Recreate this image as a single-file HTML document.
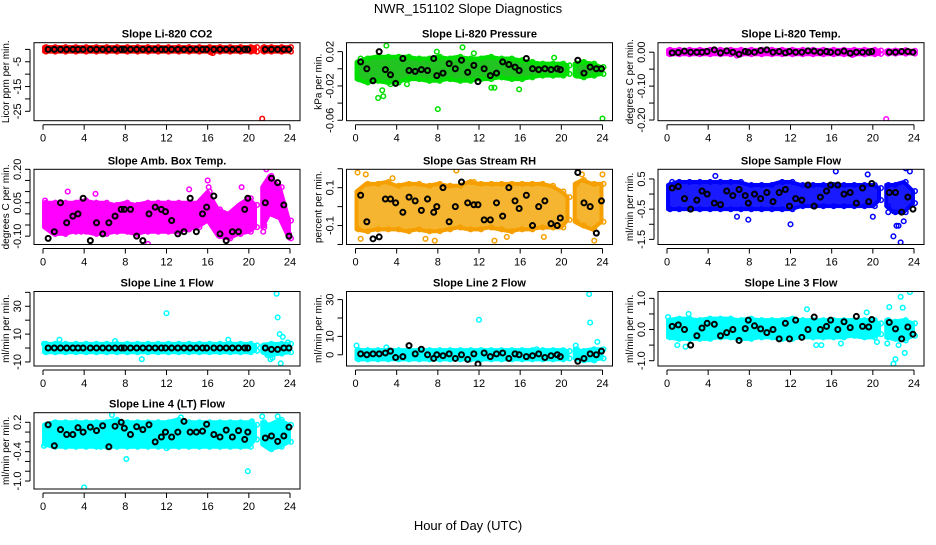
<!DOCTYPE html>
<html><head><meta charset="utf-8"><style>
body{margin:0;background:#fff}
svg text{font-family:"Liberation Sans",Arial,sans-serif}
</style></head><body>
<svg id="c" width="936" height="540" viewBox="0 0 936 540">
<text x="468" y="13" text-anchor="middle" font-size="13">NWR_151102  Slope Diagnostics</text>
<text x="468" y="530" text-anchor="middle" font-size="13">Hour of Day (UTC)</text>
</svg>
<script>
const hoursA=[0.1,1,2,3,4,5,6,7,8,9,10,11,12,13,14,15,16,17,18,19,20,20.6];
const hoursB=[21.3,22,23,23.9];
const blackHours=[0.5,1.1,1.7,2.3,2.9,3.4,3.9,4.6,5.2,5.8,6.4,7.0,7.6,7.9,8.5,9.1,9.7,10.3,10.9,11.5,11.9,12.5,13.1,13.7,14.3,14.9,15.5,15.9,16.6,17.2,17.8,18.4,19.0,19.6,19.9,21.6,22.2,22.8,23.4,23.9];
const xTicks=[0,4,8,12,16,20,24];

// CO2
const co2LoA=[-0.9,-0.9,-0.9,-0.9,-0.9,-0.9,-0.9,-0.9,-0.9,-0.9,-0.9,-0.9,-0.9,-0.9,-0.9,-0.9,-0.9,-0.9,-0.9,-0.9,-0.9,-0.9];
const co2HiA=[0.9,0.9,0.9,0.9,0.9,0.9,0.9,0.9,0.9,0.9,0.9,0.9,0.9,0.9,0.9,0.9,0.9,0.9,0.9,0.9,0.9,0.9];
const co2LoB=[-0.9,-0.9,-0.9,-0.9];
const co2HiB=[0.9,0.9,0.9,0.9];
const co2Out=[[16.3,-1.2],[16.5,-1.5],[21.3,-28]];
const co2Black=[0,0,0,0,0,0,0,0,0,0,0,0,0,0,0,0,0,0,0,0,0,0,0,0,0,0,0,0,0,0,0,0,0,0,0,0,0,0,0,0];
const co2Ticks=[0,-5,-10,-15,-20,-25];
const co2Labels=["","-5","","-15","","-25"];

// Pressure
const prLoA=[-0.012,-0.016,-0.014,-0.016,-0.016,-0.012,-0.012,-0.014,-0.014,-0.012,-0.014,-0.014,-0.012,-0.012,-0.010,-0.012,-0.012,-0.010,-0.008,-0.008,-0.008,-0.006];
const prHiA=[0.008,0.012,0.014,0.014,0.014,0.014,0.012,0.012,0.014,0.012,0.014,0.012,0.012,0.014,0.012,0.012,0.010,0.008,0.006,0.006,0.006,0.004];
const prLoB=[-0.008,-0.010,-0.008,-0.006];
const prHiB=[0.006,0.008,0.006,0.002];
const prOut=[[2.2,-0.034],[2.7,-0.032],[2.6,-0.025],[3,0.027],[8,-0.047],[24,-0.058],[10.4,0.025],[13.2,-0.022],[13.5,-0.022],[15.9,-0.024],[11.5,0.018],[7.9,0.02],[0.5,0.012],[3.4,-0.018],[5,-0.018],[19.3,0.013]];
const prBlack=[0.008,0.0,-0.014,0.02,-0.001,-0.007,-0.017,0.012,-0.002,-0.003,-0.001,-0.002,0.012,-0.008,-0.005,0.006,0.0,0.01,-0.004,0.004,-0.015,0.0,-0.008,-0.005,0.008,0.005,0.002,-0.002,0.012,0.0,-0.001,0.0,-0.001,0.0,-0.001,0.01,-0.005,0.002,0.0,0.0];
const prTicks=[0.02,0,-0.02,-0.04,-0.06];
const prLabels=["0.02","","-0.02","","-0.06"];

// Li-820 Temp
const tpLoA=[-0.006,-0.006,-0.006,-0.006,-0.006,-0.006,-0.006,-0.006,-0.006,-0.006,-0.006,-0.006,-0.006,-0.006,-0.006,-0.006,-0.006,-0.006,-0.006,-0.006,-0.006,-0.005];
const tpHiA=[0.007,0.007,0.007,0.007,0.007,0.007,0.007,0.007,0.007,0.007,0.007,0.007,0.007,0.007,0.007,0.007,0.007,0.007,0.007,0.007,0.007,0.005];
const tpLoB=[-0.004,-0.004,-0.004,-0.004];
const tpHiB=[0.004,0.005,0.006,0.004];
const tpOut=[[21.3,-0.197],[6.8,-0.01],[18,-0.008]];
const tpBlack=[-0.002,-0.001,0.003,0.0,0.0,0.0,0.002,0.007,-0.002,0.004,0.0,-0.006,0.002,0.0,0.0,0.005,0.007,0.0,0.002,-0.002,0.002,0.0,0.0,0.004,0.003,0.0,0.002,0.0,0.0,0.003,-0.003,0.0,0.0,0.0,0.002,0.0,0.0,0.002,0.002,0.0];
const tpTicks=[0,-0.05,-0.10,-0.15,-0.20];
const tpLabels=["0.00","","-0.10","","-0.20"];

// Amb box temp
const amLoA=[-0.06,-0.09,-0.09,-0.08,-0.08,-0.09,-0.09,-0.08,-0.08,-0.09,-0.08,-0.08,-0.08,-0.08,-0.07,-0.06,-0.03,-0.10,-0.11,-0.09,-0.08,-0.06];
const amHiA=[0.05,0.05,0.05,0.05,0.06,0.05,0.05,0.04,0.05,0.04,0.05,0.05,0.05,0.05,0.05,0.05,0.10,0.02,0.0,0.04,0.07,0.04];
const amLoB=[-0.06,0.0,-0.02,-0.11];
const amHiB=[0.12,0.17,0.12,-0.03];
const amOut=[[10.2,-0.135],[17.8,-0.12],[16,0.15],[16.1,0.12],[2.4,0.1],[5.1,0.09],[14.2,0.11],[21.7,0.2],[19.3,0.12],[3.7,-0.08],[0.2,0.06],[21.4,-0.08],[21.5,-0.05],[23.9,-0.09],[1.6,-0.08]];
const amBlack=[-0.11,-0.08,0.05,-0.04,-0.01,0.0,0.07,-0.12,-0.04,-0.09,-0.04,-0.01,0.02,0.02,0.02,-0.10,-0.12,0.0,0.03,0.02,0.01,-0.03,-0.09,-0.08,0.07,-0.08,0.00,0.03,0.08,-0.09,-0.12,-0.08,-0.08,0.02,0.07,0.05,0.16,0.14,0.04,-0.10];
const amTicks=[0.20,0.15,0.10,0.05,0,-0.05,-0.10];
const amLabels=["0.20","","","0.05","","","-0.10"];

// Gas stream RH
const rhLoA=[-0.12,-0.13,-0.12,-0.12,-0.12,-0.13,-0.12,-0.13,-0.13,-0.12,-0.11,-0.12,-0.12,-0.11,-0.12,-0.13,-0.12,-0.12,-0.11,-0.11,-0.11,-0.07];
const rhHiA=[0.08,0.12,0.12,0.13,0.11,0.12,0.12,0.11,0.12,0.11,0.11,0.13,0.12,0.12,0.12,0.12,0.12,0.12,0.12,0.11,0.08,0.05];
const rhLoB=[-0.08,-0.10,-0.12,-0.08];
const rhHiB=[0.12,0.14,0.12,0.12];
const rhOut=[[0.2,0.18],[0.5,-0.17],[1,0.17],[3.6,0.15],[6.8,-0.17],[7.7,-0.18],[9.8,0.19],[13.5,-0.18],[14.7,-0.16],[18.3,-0.16],[23.2,-0.18],[24,0.17],[11.5,0.13],[22,0.17]];
const rhBlack=[0.06,-0.08,-0.17,-0.16,0.04,0.04,0.02,-0.03,0.05,0.03,-0.02,0.04,-0.03,0.00,0.1,-0.08,0.00,0.13,0.02,0.01,0.01,-0.07,-0.07,0.02,-0.05,0.1,0.03,-0.01,0.06,-0.1,0.0,0.03,-0.09,-0.1,-0.06,0.18,0.02,0.0,-0.14,0.03];
const rhTicks=[0.2,0.1,0,-0.1,-0.2];
const rhLabels=["","0.1","","-0.1",""];

// Sample flow
const sfLoA=[-0.5,-0.5,-0.5,-0.5,-0.5,-0.5,-0.5,-0.5,-0.5,-0.5,-0.5,-0.5,-0.5,-0.4,-0.4,-0.4,-0.4,-0.4,-0.4,-0.4,-0.4,-0.2];
const sfHiA=[0.3,0.4,0.4,0.4,0.4,0.4,0.4,0.4,0.3,0.3,0.3,0.4,0.4,0.3,0.3,0.3,0.3,0.3,0.3,0.3,0.3,0.2];
const sfLoB=[-0.4,-0.6,-0.6,-0.3];
const sfHiB=[0.3,0.3,0.4,0.1];
const sfOut=[[22,-1.4],[22.7,-1.6],[22.3,-1.05],[22.5,-1.05],[12,-1.0],[4.7,0.6],[16.4,0.75],[19.5,0.65],[23.2,0.85],[23.6,0.75],[7.9,-0.85],[6.8,-0.75],[20,-0.75],[21.5,-0.6],[23,-0.9],[0.5,0.4]];
const sfBlack=[0.2,0.25,-0.15,-0.5,-0.2,0.1,0.0,-0.3,-0.35,0.1,-0.05,0.15,-0.05,-0.3,0.0,-0.15,0.05,-0.25,0.05,0.15,-0.4,-0.15,-0.2,0.3,-0.4,-0.1,0.1,0.3,0.3,0.0,0.05,-0.3,0.2,-0.25,0.35,0.05,0.05,-0.6,-0.1,-0.5];
const sfTicks=[0.5,0,-0.5,-1,-1.5];
const sfLabels=["0.5","","-0.5","","-1.5"];

// Line 1
const l1LoA=[-3,-3,-3,-3,-3,-3,-3,-3,-3,-3,-3,-3,-3,-3,-3,-3,-3,-3,-3,-3,-3,-2];
const l1HiA=[3,3,3,3,3,3,3,3,3,3,3,3,3,3,3,3,3,3,3,3,3,2];
const l1LoB=[-3,-5,-4,-3];
const l1HiB=[2,3,3,3];
const l1Out=[[12,25],[22.7,39],[22.8,22],[23,10],[23.3,8],[23.1,-11],[22.1,-8],[22.3,-7],[9.6,-8],[1.6,6],[18,6],[21.8,-5],[0.1,3],[7,5],[23.8,4]];
const l1Black=[0,0,0,0,0,0,0,0,0,0,0,0,0,0,0,0,0,0,0,0,0,0,0,0,0,0,0,0,0,0,0,0,0,0,0,0,-1,-1,0,0];
const l1Ticks=[40,30,20,10,0,-10];
const l1Labels=["","30","","10","","-10"];

// Line 2
const l2LoA=[-2.5,-2.5,-2.5,-2.5,-2.5,-2.5,-2.5,-2.5,-2.5,-2.5,-2.5,-2.5,-2.5,-2.5,-2.5,-2.5,-2.5,-2.5,-2.5,-2.5,-2.5,-2];
const l2HiA=[2.5,2.5,2.5,2.5,2.5,2.5,2.5,2.5,2.5,2.5,2.5,2.5,2.5,2.5,2.5,2.5,2.5,2.5,2.5,2.5,2.5,2];
const l2LoB=[-2,-3,-3,-2];
const l2HiB=[3,2,3,3];
const l2Out=[[12,19],[22.7,33],[22.8,17.5],[23.5,7],[21.4,5],[0.1,5],[23.2,-3],[3,4],[17.6,3]];
const l2Black=[0.5,0,0.5,0.5,1,2,-1.5,-1,5,0.5,3,0,-2,0,-0.5,0.5,-2,0,-2.5,0.5,-5,1,-1,0.5,1,-2,0.5,0,-1,-0.5,0.5,-1.5,-0.5,0,-1,-3.5,-2,0.5,0,2];
const l2Ticks=[30,20,10,0];
const l2Labels=["30","","10","0"];

// Line 3
const l3LoA=[-0.25,-0.3,-0.3,-0.3,-0.3,-0.25,-0.25,-0.3,-0.3,-0.25,-0.25,-0.3,-0.3,-0.25,-0.25,-0.25,-0.25,-0.25,-0.2,-0.25,-0.25,-0.15];
const l3HiA=[0.3,0.35,0.35,0.3,0.35,0.35,0.35,0.3,0.35,0.3,0.3,0.3,0.35,0.3,0.3,0.3,0.3,0.3,0.3,0.3,0.3,0.2];
const l3LoB=[-0.25,-0.3,-0.35,-0.2];
const l3HiB=[0.3,0.25,0.3,0.2];
const l3Out=[[22,-1.1],[22.2,-0.95],[22.5,-0.5],[23.1,-0.75],[22.7,1.05],[23.6,1.2],[22.9,0.7],[21.6,0.72],[13.6,0.65],[19.4,0.55],[1,-0.5],[1.8,-0.55],[14.5,-0.5],[15,-0.5],[16.9,-0.45],[0.1,0.4],[2.1,0.5],[20.4,-0.4],[21.4,-0.45]];
const l3Black=[0.1,0.15,0.0,-0.5,-0.2,0.05,0.2,0.17,-0.2,-0.1,0.0,-0.35,0.03,0.3,0.12,0.02,-0.1,0.0,-0.3,0.2,-0.3,0.3,-0.25,0.0,0.4,0.0,0.1,0.3,0.0,0.25,0.06,0.42,0.1,0.08,0.32,0.23,0.02,-0.3,0.08,-0.15];
const l3Ticks=[1,0.5,0,-0.5,-1];
const l3Labels=["1.0","","0.0","","-1.0"];

// Line 4
const l4LoA=[-0.25,-0.3,-0.3,-0.3,-0.3,-0.3,-0.3,-0.3,-0.3,-0.3,-0.3,-0.3,-0.3,-0.3,-0.3,-0.3,-0.3,-0.3,-0.3,-0.3,-0.3,-0.15];
const l4HiA=[0.15,0.2,0.2,0.2,0.2,0.2,0.2,0.25,0.2,0.2,0.2,0.2,0.2,0.25,0.2,0.2,0.2,0.2,0.2,0.2,0.2,0.15];
const l4LoB=[-0.25,-0.35,-0.3,-0.2];
const l4HiB=[0.2,0.15,0.25,0.15];
const l4Out=[[4,-1.13],[8.1,-0.55],[19.9,-0.8],[6.7,0.35],[5.6,-0.3],[0.1,-0.28],[12,-0.33],[21.3,0.32],[22.8,0.32],[13.4,0.3],[8.6,-0.28],[20.3,0.22]];
const l4Black=[0.15,-0.28,0.05,-0.05,-0.05,0.09,0.0,0.1,0.03,0.13,-0.3,0.12,0.2,0.08,-0.05,0.11,0.05,0.15,-0.2,-0.1,0.0,-0.1,0.0,0.22,0.0,0.0,0.02,0.16,-0.05,-0.1,0.04,-0.1,0.03,-0.15,0.0,-0.12,-0.08,-0.19,-0.08,0.1];
const l4Ticks=[0.2,0,-0.2,-0.4,-0.6,-0.8,-1.0];
const l4Labels=["0.2","","","-0.4","","","-1.0"];

const NS="http://www.w3.org/2000/svg";
const svg=document.getElementById('c');
const colLeft=[34,346.5,658];
const rowTop=[42.7,169.3,291.5,412.7];
const rowBot=[120.7,244.5,366,489];

const panels=[
 {n:'co2',t:'Slope Li-820 CO2',yl:'Licor ppm per min.',c:0,r:0,ymin:-28.8,ymax:2.7,col:'#f00',fill:'#c81010',lo:[co2LoA,co2LoB],hi:[co2HiA,co2HiB],out:co2Out,blk:co2Black,tk:co2Ticks,lb:co2Labels},
 {n:'pressure',t:'Slope Li-820 Pressure',yl:'kPa per min.',c:1,r:0,ymin:-0.0605,ymax:0.0304,col:'#00e000',fill:'#22c422',lo:[prLoA,prLoB],hi:[prHiA,prHiB],out:prOut,blk:prBlack,tk:prTicks,lb:prLabels},
 {n:'li820-temp',t:'Slope Li-820 Temp.',yl:'degrees C per min.',c:2,r:0,ymin:-0.202,ymax:0.028,col:'#f0f',fill:'#f0f',lo:[tpLoA,tpLoB],hi:[tpHiA,tpHiB],out:tpOut,blk:tpBlack,tk:tpTicks,lb:tpLabels},
 {n:'amb-box-temp',t:'Slope Amb. Box Temp.',yl:'degrees C per min.',c:0,r:1,ymin:-0.1375,ymax:0.2,col:'#f0f',fill:'#f0f',lo:[amLoA,amLoB],hi:[amHiA,amHiB],out:amOut,blk:amBlack,tk:amTicks,lb:amLabels},
 {n:'gas-stream-rh',t:'Slope Gas Stream RH',yl:'percent per min.',c:1,r:1,ymin:-0.2,ymax:0.197,col:'#f5a000',fill:'#f5b530',lo:[rhLoA,rhLoB],hi:[rhHiA,rhHiB],out:rhOut,blk:rhBlack,tk:rhTicks,lb:rhLabels},
 {n:'sample-flow',t:'Slope Sample Flow',yl:'ml/min per min.',c:2,r:1,ymin:-1.67,ymax:0.82,col:'#00f',fill:'#1a1aff',lo:[sfLoA,sfLoB],hi:[sfHiA,sfHiB],out:sfOut,blk:sfBlack,tk:sfTicks,lb:sfLabels},
 {n:'line1-flow',t:'Slope Line 1 Flow',yl:'ml/min per min.',c:0,r:2,ymin:-12.9,ymax:40.6,col:'#0ff',fill:'#0ff',lo:[l1LoA,l1LoB],hi:[l1HiA,l1HiB],out:l1Out,blk:l1Black,tk:l1Ticks,lb:l1Labels},
 {n:'line2-flow',t:'Slope Line 2 Flow',yl:'ml/min per min.',c:1,r:2,ymin:-6.1,ymax:34.4,col:'#0ff',fill:'#0ff',lo:[l2LoA,l2LoB],hi:[l2HiA,l2HiB],out:l2Out,blk:l2Black,tk:l2Ticks,lb:l2Labels},
 {n:'line3-flow',t:'Slope Line 3 Flow',yl:'ml/min per min.',c:2,r:2,ymin:-1.17,ymax:1.22,col:'#0ff',fill:'#0ff',lo:[l3LoA,l3LoB],hi:[l3HiA,l3HiB],out:l3Out,blk:l3Black,tk:l3Ticks,lb:l3Labels},
 {n:'line4-flow',t:'Slope Line 4 (LT) Flow',yl:'ml/min per min.',c:0,r:3,ymin:-1.163,ymax:0.396,col:'#0ff',fill:'#0ff',lo:[l4LoA,l4LoB],hi:[l4HiA,l4HiB],out:l4Out,blk:l4Black,tk:l4Ticks,lb:l4Labels}
];

function mk(tag,attrs,parent){const e=document.createElementNS(NS,tag);for(const k in attrs)e.setAttribute(k,attrs[k]);parent.appendChild(e);return e;}

panels.forEach(p=>{
 const L=colLeft[p.c],T=rowTop[p.r],B=rowBot[p.r],W=266;
 const xs=h=>L+9+h*(247/24);
 const ys=v=>B-(v-p.ymin)/(p.ymax-p.ymin)*(B-T);
 const g=mk('g',{},svg);
 
 
 const clip=mk('clipPath',{id:'cl'+p.n},g);
 mk('rect',{x:L,y:T,width:W,height:B-T},clip);
 const pg=mk('g',{'clip-path':'url(#cl'+p.n+')'},g);
 [hoursA,hoursB].forEach((hs,si)=>{
  const lo=p.lo[si],hi=p.hi[si];
  let pts=hs.map((h,i)=>xs(h)+','+ys(hi[i]));
  pts=pts.concat(hs.map((h,i)=>xs(h)+','+ys(lo[i])).reverse());
  const poly=mk('polygon',{points:pts.join(' '),fill:p.fill,stroke:p.col,'stroke-width':4,'stroke-linejoin':'round'},pg);
  
  
  hs.forEach((h,i)=>{
   [hi[i],lo[i]].forEach(v=>{
    const c=mk('circle',{cx:xs(h)+2,cy:ys(v),r:2.3,fill:'none',stroke:p.col,'stroke-width':1.5},pg);
    
    
   });
  });
 });
 p.out.forEach(o=>{
  const c=mk('circle',{cx:xs(o[0]),cy:ys(o[1]),r:2.3,fill:'none',stroke:p.col,'stroke-width':1.5},pg);
  
  
 });
 p.blk.forEach((v,i)=>{
  const c=mk('circle',{cx:xs(blackHours[i]),cy:ys(v),r:2.5,fill:'none',stroke:'#000','stroke-width':2},pg);
  
  
 });
 const box=mk('rect',{x:L,y:T,width:W,height:B-T,fill:'none',stroke:'#000','stroke-width':1},g);
 
 
 const tt=mk('text',{x:L+W/2,y:T-5,'text-anchor':'middle','font-size':11,'font-weight':'bold'},g);
 tt.textContent=p.t;
 
 
 mk('line',{x1:xs(0),x2:xs(24),y1:B+4,y2:B+4,stroke:'#000'},g);
 xTicks.forEach(h=>{
  mk('line',{x1:xs(h),x2:xs(h),y1:B+4,y2:B+9,stroke:'#000'},g);
  const t=mk('text',{x:xs(h),y:B+21,'text-anchor':'middle','font-size':11},g);
  t.textContent=h;
  
  
 });
 const t0=ys(p.tk[0]),t1=ys(p.tk[p.tk.length-1]);
 mk('line',{x1:L-4,x2:L-4,y1:t0,y2:t1,stroke:'#000'},g);
 p.tk.forEach((v,i)=>{
  const y=ys(v);
  mk('line',{x1:L-9,x2:L-4,y1:y,y2:y,stroke:'#000'},g);
  if(p.lb[i]){
   const t=mk('text',{x:L-13,y:y,'text-anchor':'middle','font-size':11,transform:'rotate(-90 '+(L-13)+' '+y+')'},g);
   t.textContent=p.lb[i];
   
   
  }
 });
 const yl=mk('text',{x:L-25,y:(T+B)/2,'text-anchor':'middle','font-size':10,transform:'rotate(-90 '+(L-25)+' '+(T+B)/2+')'},g);
 yl.textContent=p.yl;
 
 
});
</script>
</body></html>
